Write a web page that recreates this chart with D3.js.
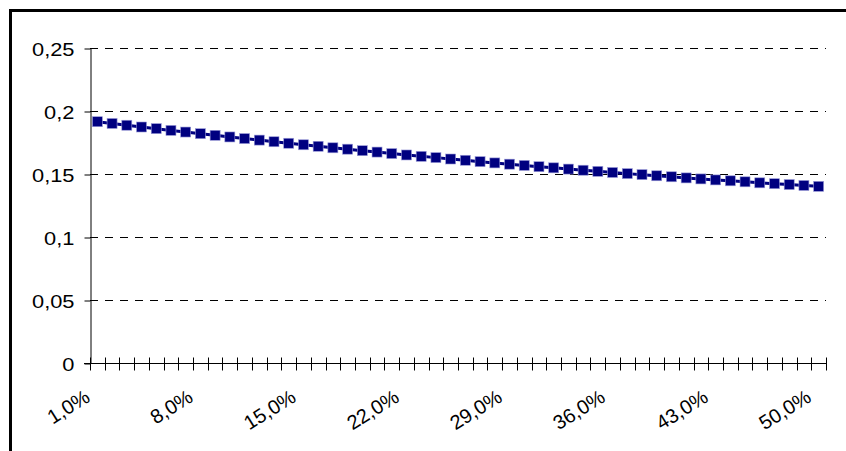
<!DOCTYPE html>
<html>
<head>
<meta charset="utf-8">
<script src="https://cdn.jsdelivr.net/npm/d3@7"></script>
<style>
  html, body { margin: 0; padding: 0; background: #fff; }
  svg { display: block; }
  text { font-family: "Liberation Sans", Arial, sans-serif; fill: #000; }
</style>
</head>
<body>
<svg id="chart" width="846" height="451"></svg>
<script>
// Rates from 1,0% to 50,0% in 1% steps
const rates = [
  1, 2, 3, 4, 5, 6, 7, 8, 9, 10,
  11, 12, 13, 14, 15, 16, 17, 18, 19, 20,
  21, 22, 23, 24, 25, 26, 27, 28, 29, 30,
  31, 32, 33, 34, 35, 36, 37, 38, 39, 40,
  41, 42, 43, 44, 45, 46, 47, 48, 49, 50
];
const values = [
  0.1915, 0.1901, 0.1887, 0.1873, 0.1860, 0.1846, 0.1833, 0.1820, 0.1807, 0.1794,
  0.1781, 0.1769, 0.1756, 0.1744, 0.1732, 0.1720, 0.1708, 0.1697, 0.1685, 0.1674,
  0.1662, 0.1651, 0.1640, 0.1630, 0.1619, 0.1609, 0.1598, 0.1588, 0.1578, 0.1568,
  0.1558, 0.1549, 0.1539, 0.1530, 0.1521, 0.1512, 0.1503, 0.1495, 0.1486, 0.1478,
  0.1469, 0.1461, 0.1453, 0.1446, 0.1438, 0.1430, 0.1423, 0.1416, 0.1409, 0.1402
];
const yTicks = [0, 0.05, 0.1, 0.15, 0.2, 0.25];
const yTickLabels = ["0", "0,05", "0,1", "0,15", "0,2", "0,25"];
const xLabelEvery = 7;

const svg = d3.select("#chart");
const plot = { left: 90, right: 826, top: 48, bottom: 363 };

// Outer chart frame
svg.append("rect")
  .attr("x", 10.5).attr("y", 10.5)
  .attr("width", 900).attr("height", 600)
  .attr("fill", "#fff").attr("stroke", "#000").attr("stroke-width", 3);

const x = d3.scaleBand().domain(rates).range([plot.left, plot.right]).paddingInner(0).paddingOuter(0);
const y = d3.scaleLinear().domain([0, 0.25]).range([plot.bottom, plot.top]);

// Dashed horizontal gridlines
svg.append("g")
  .selectAll("line")
  .data(yTicks.filter(t => t > 0))
  .join("line")
  .attr("x1", plot.left).attr("x2", plot.right)
  .attr("y1", d => Math.round(y(d)) + 0.5).attr("y2", d => Math.round(y(d)) + 0.5)
  .attr("stroke", "#000").attr("stroke-width", 1)
  .attr("stroke-dasharray", "8,7");

// Y axis (labels drawn slightly wide, right-aligned 10px left of the ticks)
const yAxis = d3.axisLeft(y)
  .tickValues(yTicks)
  .tickFormat((d, i) => yTickLabels[i])
  .tickSize(6).tickPadding(10).tickSizeOuter(0);
const gy = svg.append("g")
  .attr("transform", `translate(${plot.left + 0.5},0.5)`)
  .call(yAxis);
gy.select(".domain").attr("stroke", "#000");
gy.selectAll(".tick line").attr("stroke", "#000");
gy.selectAll(".tick text")
  .attr("font-size", 19)
  .attr("font-family", "Liberation Sans, Arial, sans-serif")
  .attr("x", null)
  .attr("dy", "0.36em")
  .attr("transform", "translate(-16,0) scale(1.15,1)");

// X axis: category boundaries carry crossing ticks
const gx = svg.append("g").attr("transform", `translate(0,${Math.round(y(0)) + 0.5})`);
gx.append("line")
  .attr("x1", plot.left - 6).attr("x2", plot.right)
  .attr("stroke", "#000");
const boundaries = rates.map(r => x(r)).concat([x(rates[rates.length - 1]) + x.bandwidth()]);
gx.selectAll("line.tk")
  .data(boundaries)
  .join("line")
  .attr("class", "tk")
  .attr("x1", d => Math.round(d) + 0.5).attr("x2", d => Math.round(d) + 0.5)
  .attr("y1", -6).attr("y2", 7)
  .attr("stroke", "#000");

// Rotated category labels
gx.selectAll("text")
  .data(rates.filter((r, i) => i % xLabelEvery === 0))
  .join("text")
  .attr("text-anchor", "end")
  .attr("font-size", 20)
  .attr("transform", d => `translate(${x(d) + x.bandwidth() / 2 - 6},${37}) rotate(-32)`)
  .text(d => d.toFixed(1).replace(".", ",") + "%");

// Series line
const cx = (d, i) => x(rates[i]) + x.bandwidth() / 2;
const line = d3.line().x((d, i) => cx(d, i)).y(d => y(d));
svg.append("path")
  .datum(values)
  .attr("d", line)
  .attr("fill", "none")
  .attr("stroke", "#000080")
  .attr("stroke-width", 3);

// Square markers
const m = 10;
svg.append("g")
  .selectAll("rect")
  .data(values)
  .join("rect")
  .attr("x", (d, i) => cx(d, i) - m / 2)
  .attr("y", d => y(d) - m / 2)
  .attr("width", m).attr("height", m)
  .attr("fill", "#000080")
  .attr("stroke", "#9a9ad8").attr("stroke-width", 0.6);
</script>
</body>
</html>
